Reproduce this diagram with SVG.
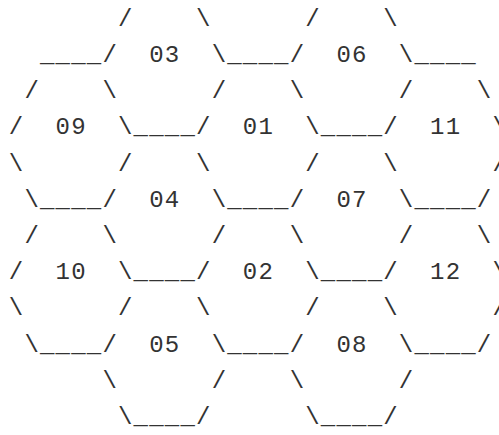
<svg xmlns="http://www.w3.org/2000/svg" width="499" height="435" viewBox="0 0 499 435" xml:space="preserve">
<style>
text{font-family:"Liberation Mono","Courier New",monospace;font-size:24px;letter-spacing:1.2px;fill:#333;white-space:pre}
</style>
<rect width="499" height="435" fill="#fff"/>
<g id="ascii-hex-grid">
<text xml:space="preserve" x="8.8" y="25.8">       /    \      /    \</text>
<text xml:space="preserve" x="8.8" y="62">  ____/  03  \____/  06  \____</text>
<text xml:space="preserve" x="8.8" y="98.2"> /    \      /    \      /    \</text>
<text xml:space="preserve" x="8.8" y="134.4">/  09  \____/  01  \____/  11  \</text>
<text xml:space="preserve" x="8.8" y="170.6">\      /    \      /    \      /</text>
<text xml:space="preserve" x="8.8" y="206.8"> \____/  04  \____/  07  \____/</text>
<text xml:space="preserve" x="8.8" y="243"> /    \      /    \      /    \</text>
<text xml:space="preserve" x="8.8" y="279.2">/  10  \____/  02  \____/  12  \</text>
<text xml:space="preserve" x="8.8" y="315.4">\      /    \      /    \      /</text>
<text xml:space="preserve" x="8.8" y="351.6"> \____/  05  \____/  08  \____/</text>
<text xml:space="preserve" x="8.8" y="387.8">      \      /    \      /</text>
<text xml:space="preserve" x="8.8" y="424">       \____/      \____/</text>
</g>
</svg>
